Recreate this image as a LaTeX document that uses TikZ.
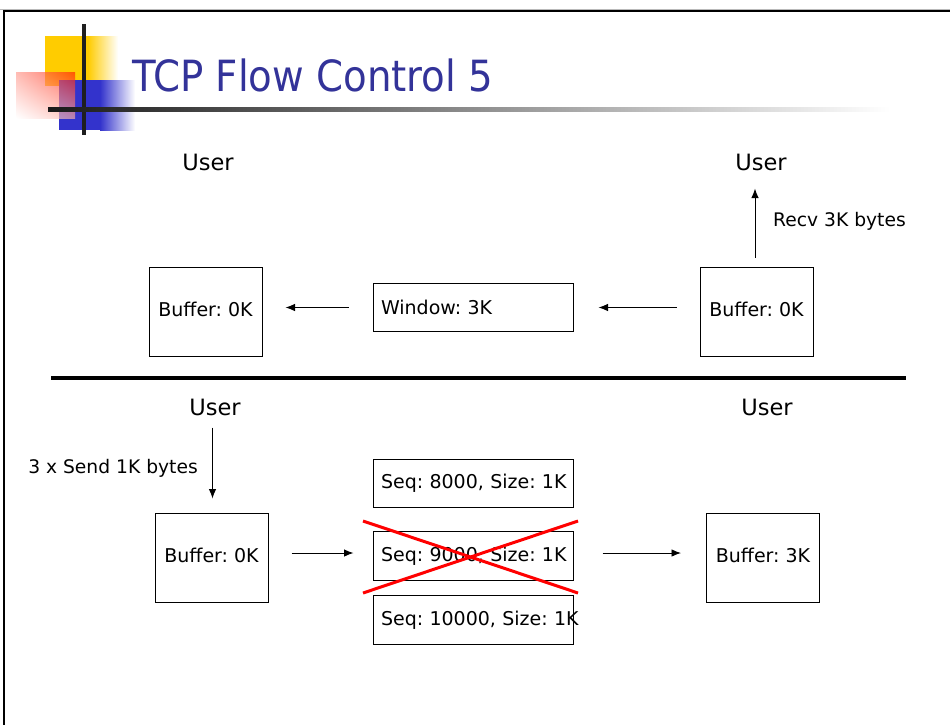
\documentclass[tikz,border=0pt]{standalone}
\usepackage{fontspec}
\setmainfont{DejaVu Sans}
\newfontfamily\headfont{DejaVu Sans Condensed}
\usetikzlibrary{arrows.meta,shadings}
\definecolor{titleblue}{HTML}{333399}
\definecolor{logoyellow}{HTML}{FFCC00}
\definecolor{logoblue}{HTML}{3333CC}
\definecolor{logored}{HTML}{FF1A00}
\frenchspacing

\begin{document}
\begin{tikzpicture}[x=1pt,y=-1pt,
  txt/.style={inner sep=0pt, font=\fontsize{18.7}{22}\selectfont},
  userlbl/.style={inner sep=0pt, font=\fontsize{22.5}{27}\selectfont},
  box/.style={draw, line width=1pt, inner sep=0pt, font=\fontsize{19}{23}\selectfont},
  bufbox/.style={box, minimum width=113pt, minimum height=89pt, text depth=5pt},
  msgbox/.style={box, minimum height=48.5pt, text width=184pt, inner xsep=8pt, align=left},
  arr/.style={draw, line width=0.9pt, -{Latex[length=9.5pt,width=7.5pt]}},
  cross/.style={draw=red, line width=3pt}
]
\useasboundingbox (0,0) rectangle (950,724);

% slide frame
\draw[gray!55, line width=1pt] (0,9) -- (950,9);
\draw[line width=2pt] (4.3,11) rectangle (965,740);

% corner logo
\fill[logoyellow] (45,36) rectangle (88,86);
\shade[left color=logoyellow, right color=white] (88,36) rectangle (118,86);
\fill[logoblue] (59,80) rectangle (100,130);
\shade[left color=logoblue, right color=white] (100,80) rectangle (135,130);
\shade[fill opacity=0.65, upper right=logored, lower left=white,
       upper left=logored!45!white, lower right=logored!35!white]
  (16,72) rectangle (75,118);
\fill[black!88] (82,24) rectangle (86,135);
\shade[left color=black!90, right color=white] (48,107) rectangle (890,111);

% title
\node[inner sep=0pt, anchor=base west, text=titleblue,
      font=\headfont\fontsize{43}{49}\selectfont] (title) at (132,91) {TCP Flow Control 5};

% upper half: receiver advertises its window
\node[userlbl] (userTL) at (208,162) {User};
\node[userlbl] (userTR) at (761,162) {User};
\node[bufbox] (bufL) at (205.5,311.5) {Buffer: 0K};
\node[msgbox] (win) at (473,307.5) {\mbox{Window: 3K}};
\node[bufbox] (bufR) at (756.5,311.5) {Buffer: 0K};
\node[txt, anchor=west] (recv) at (773,221) {Recv 3K bytes};

\draw[arr, shorten <=24pt, shorten >=23pt] (win.west) -- (win.west -| bufL.east);
\draw[arr, shorten <=23pt, shorten >=25pt] (bufR.west |- win.east) -- (win.east);
\draw[arr, shorten <=9pt, shorten >=18pt] ([xshift=-1.5pt]bufR.north) -- ([xshift=-1.5pt]bufR.north |- userTR.south);

% divider
\draw[line width=3.2pt] (51,378) -- (906,378);

% lower half: sender pushes three segments
\node[userlbl] (userBL) at (215,407) {User};
\node[userlbl] (userBR) at (767,407) {User};
\node[bufbox] (bufBL) at (211.5,557.5) {Buffer: 0K};
\node[msgbox] (seqA) at (473,483.5) {\mbox{Seq: 8000, Size: 1K}};
\node[msgbox] (seqB) at (473,556) {\mbox{Seq: 9000, Size: 1K}};
\node[msgbox] (seqC) at (473,620) {\mbox{Seq: 10000, Size: 1K}};
\node[bufbox] (bufBR) at (763,557.5) {Buffer: 3K};
\node[txt, anchor=east] (send) at (198,468) {3 x Send 1K bytes};

\draw[arr, shorten <=12pt, shorten >=14pt] ([xshift=1pt]bufBL.north |- userBL.south) -- ([xshift=1pt]bufBL.north);
\draw[arr, shorten <=23pt, shorten >=19pt] (bufBL.east |- 0,553) -- (seqB.west |- 0,553);
\draw[arr, shorten <=29pt, shorten >=25pt] (seqB.east |- 0,553) -- (bufBR.west |- 0,553);

% lost segment
\coordinate (xa) at (363,521);
\coordinate (xb) at (578,593);
\coordinate (xc) at (363,593);
\coordinate (xd) at (578,521);
\draw[cross] (xa) -- (xb);
\draw[cross] (xc) -- (xd);
\end{tikzpicture}
\end{document}
